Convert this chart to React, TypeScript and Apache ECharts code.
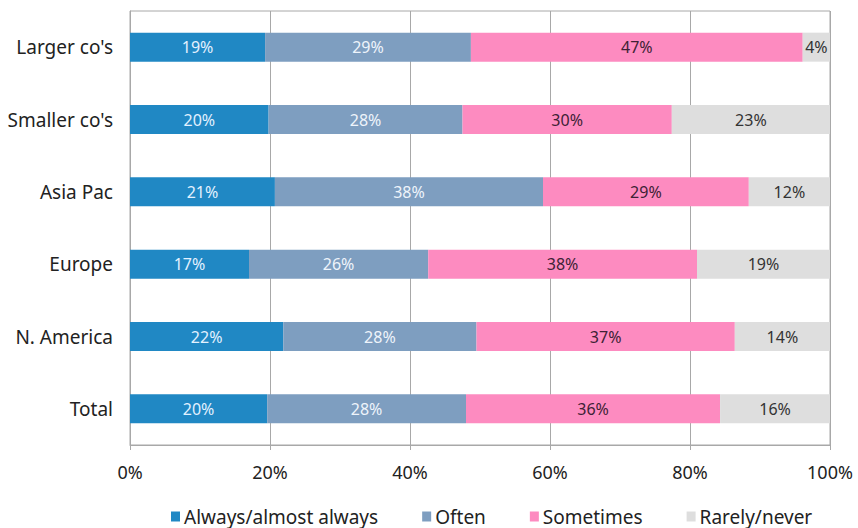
import React, { useEffect, useRef } from "react";
import * as echarts from "echarts";

// Rows, listed bottom-to-top as the category axis draws them
const categories = ["Total", "N. America", "Europe", "Asia Pac", "Smaller co's", "Larger co's"];

// Share of respondents per answer (%), same row order as categories
const always = [19.6, 21.9, 17.0, 20.7, 19.8, 19.3];
const often = [28.4, 27.6, 25.6, 38.3, 27.7, 29.4];
const sometimes = [36.3, 36.9, 38.4, 29.4, 29.9, 47.4];
const rarely = [15.7, 13.6, 19.0, 11.6, 22.6, 3.9];

const seriesNames = ["Always/almost always", "Often", "Sometimes", "Rarely/never"];
const xTicks = [0, 20, 40, 60, 80, 100];

const FONT = "'Noto Sans', 'Open Sans', sans-serif";

export default function App() {
  const ref = useRef<HTMLDivElement>(null);

  useEffect(() => {
    if (!ref.current) return;
    const chart = echarts.init(ref.current, null, { renderer: "svg" });

    const makeSeries = (name: string, data: number[], color: string, labelColor: string) => ({
      name,
      type: "bar",
      stack: "total",
      data,
      barWidth: 29,
      itemStyle: { color },
      label: {
        show: true,
        position: "inside",
        color: labelColor,
        fontFamily: FONT,
        fontSize: 16,
        formatter: (p: any) => `${Math.round(p.value)}%`,
      },
      emphasis: { disabled: true },
    });

    chart.setOption({
      animation: false,
      textStyle: { fontFamily: FONT },
      grid: {
        left: 130,
        right: 28,
        top: 11,
        bottom: 83,
        show: true,
        borderColor: "#a8a8a8",
        borderWidth: 1,
        backgroundColor: "transparent",
      },
      xAxis: {
        type: "value",
        min: 0,
        max: 100,
        interval: 20,
        axisLine: { show: true, lineStyle: { color: "#a8a8a8" } },
        axisTick: { show: true, length: 5, lineStyle: { color: "#a8a8a8" } },
        splitLine: { show: true, lineStyle: { color: "#a8a8a8", width: 1 } },
        axisLabel: {
          color: "#222",
          fontSize: 18,
          fontFamily: FONT,
          margin: 18,
          formatter: (v: number) => (xTicks.includes(v) ? `${v}%` : ""),
        },
      },
      yAxis: {
        type: "category",
        data: categories,
        axisLine: { show: true, lineStyle: { color: "#a8a8a8" } },
        axisTick: { show: false },
        axisLabel: { color: "#222", fontSize: 19, fontFamily: FONT, margin: 17 },
      },
      legend: {
        left: 166,
        top: 502,
        itemWidth: 9,
        itemHeight: 10,
        itemGap: 44,
        icon: "rect",
        textStyle: { color: "#222", fontSize: 19, fontFamily: FONT, padding: [0, 0, 0, -1] },
        data: seriesNames,
      },
      series: [
        makeSeries(seriesNames[0], always, "#2088c4", "#e3f1ff"),
        makeSeries(seriesNames[1], often, "#7e9ec0", "#eef4fb"),
        makeSeries(seriesNames[2], sometimes, "#fd8bc0", "#3d2235"),
        makeSeries(seriesNames[3], rarely, "#dedede", "#333333"),
      ],
    });

    return () => chart.dispose();
  }, []);

  return (
    <div
      ref={ref}
      style={{ position: "absolute", left: 0, top: 0, width: 858, height: 528, background: "#fff" }}
    />
  );
}
